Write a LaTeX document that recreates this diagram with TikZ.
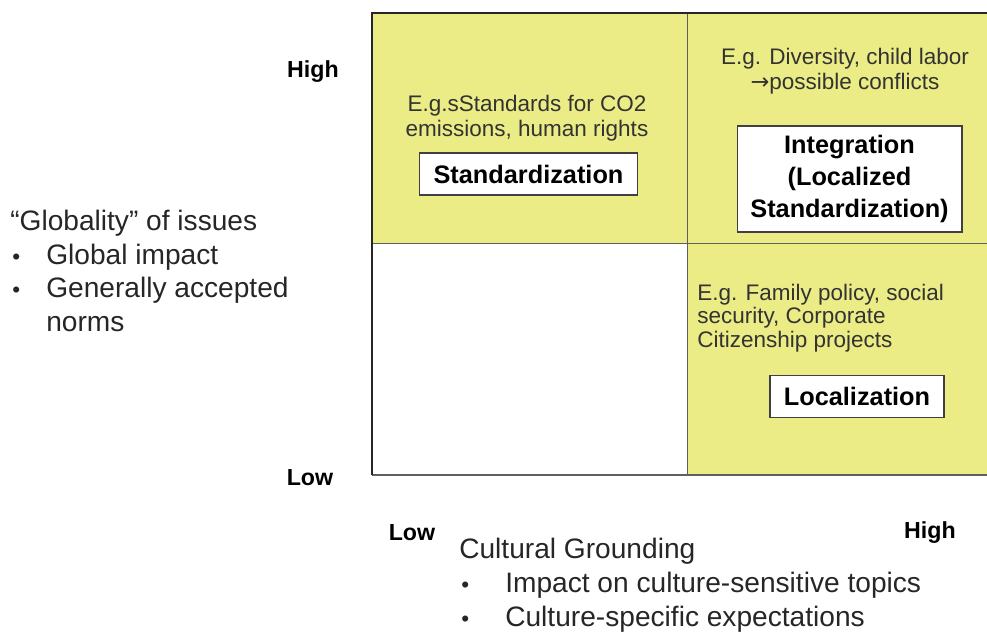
\documentclass[tikz,border=0pt]{standalone}
\usepackage{fontspec}
\setmainfont{Liberation Sans}
\newfontfamily\arrowfont{DejaVu Sans}
\usetikzlibrary{positioning}
\definecolor{quadyellow}{RGB}{235,236,133}
\definecolor{gridgray}{RGB}{95,95,95}
\newcommand{\dimbullet}[2]{\makebox[#1][l]{\hspace{0.05cm}\scalebox{0.8}{•}}#2}

\begin{document}
\begin{tikzpicture}[x=0.025cm, y=-0.025cm,
    axislabel/.style={font=\fontsize{16.5}{19}\selectfont\bfseries},
    note/.style={font=\fontsize{16}{17.5}\selectfont, text=black!80, inner sep=0pt},
    strategy/.style={draw=black!75, line width=0.8pt, fill=white, align=center,
        font=\fontsize{18}{22.7}\selectfont\bfseries, inner sep=0pt},
    dimtext/.style={font=\fontsize{20}{24}\selectfont, text=black!85, align=left, inner sep=0pt}]
    \useasboundingbox (0,0) rectangle (987,632);

    % Quadrants
    \fill[quadyellow] (372,13) rectangle (987,475);
    \fill[white] (372,243) rectangle (687,475);
    \draw[gridgray, line width=0.6pt] (687,13) -- (687,475);
    \draw[gridgray, line width=0.6pt] (372,243) -- (987,243);
    \draw[gridgray, line width=0.9pt] (372,475) -- (987,475);
    \draw[black!85, line width=1.4pt] (987,13) -- (372,13) -- (372,475);

    % Axis ends
    \node[axislabel] (yhigh) at (313,72) {High};
    \node[axislabel] (ylow) at (310,478) {Low};
    \node[axislabel] (xlow) at (412,533) {Low};
    \node[axislabel] (xhigh) at (930,533) {High};

    % Dimensions
    \node[dimtext, anchor=west] (globality) at (10,271)
        {“Globality” of issues\\ \dimbullet{0.9cm}{Global impact}\\
         \dimbullet{0.9cm}{Generally accepted}\\ \hspace*{0.9cm}norms};
    \node[dimtext, anchor=west] (grounding) at (459,585)
        {Cultural Grounding\\ \dimbullet{1.15cm}{Impact on culture-sensitive topics}\\
         \dimbullet{1.15cm}{Culture-specific expectations}};

    % Examples per quadrant
    \node[note, align=center] (egstandard) at (527,118)
        {E.g.sStandards for CO2\\ emissions, human rights};
    \node[note, align=center, font=\fontsize{16}{18}\selectfont] (egintegrate) at (845,71)
        {E.g. Diversity, child labor\\ {\arrowfont →}possible conflicts};
    \node[note, align=left, anchor=west, font=\fontsize{16}{16.5}\selectfont] (eglocal) at (697,318)
        {E.g. Family policy, social\\ security, Corporate\\ Citizenship projects};

    \node[strategy, minimum width=5.43cm, minimum height=1.05cm] (standardization) at (528.5,174) {Standardization};
    \node[strategy, minimum width=5.62cm, minimum height=2.65cm] (integration) at (849.5,179)
        {Integration\\ (Localized\\ Standardization)};
    \node[strategy, minimum width=4.35cm, minimum height=1.07cm] (localization) at (857,396.5) {Localization};
\end{tikzpicture}
\end{document}
